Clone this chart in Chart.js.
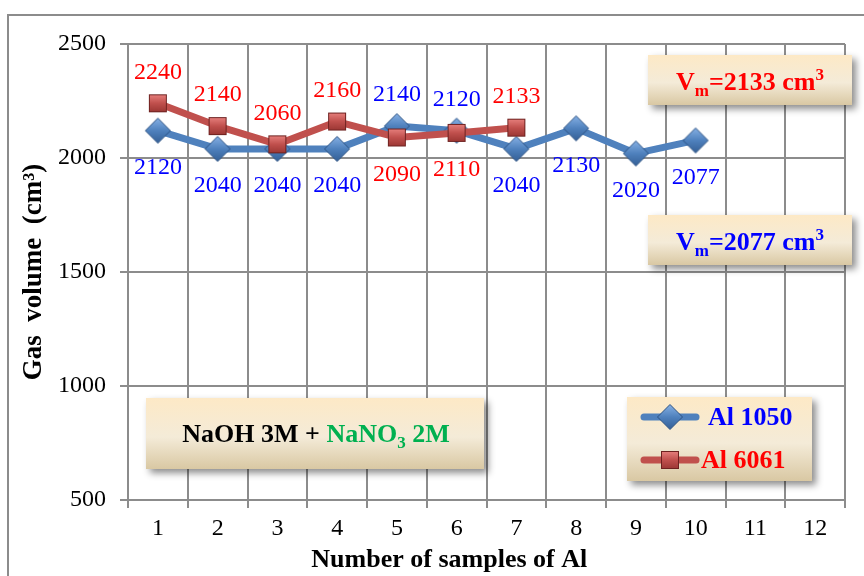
<!DOCTYPE html>
<html><head><meta charset="utf-8">
<script src="https://cdn.jsdelivr.net/npm/chart.js@4.4.0/dist/chart.umd.min.js"></script>
<style>html,body{margin:0;padding:0;background:#fff;}#wrap{width:864px;height:576px;position:relative;}</style>
</head><body><div id="wrap"><canvas id="c"></canvas></div>
<script>
// ---- data ----
const categories = ['1','2','3','4','5','6','7','8','9','10','11','12'];
const al1050 = [2120, 2040, 2040, 2040, 2140, 2120, 2040, 2130, 2020, 2077];
const al6061 = [2240, 2140, 2060, 2160, 2090, 2110, 2133];
const seriesNames = ['Al 1050', 'Al 6061'];
const yMin = 500, yMax = 2500, yStep = 500;
const mean6061 = '2133';
const mean1050 = '2077';
const xTitle = 'Number of samples of Al';
const yTitle = 'Gas  volume  (cm\u00B3)';

// label placement (above / below point)
const place1050 = ['b','b','b','b','a','a','b','b','b','b'];
const place6061 = ['a','a','a','a','b','b','a'];

const SERIF = "'Liberation Serif','Times New Roman',serif";
const BLUE = '#4f81bd', RED = '#c0504d';
const GRID = '#8c8c8c';

function makeDiamond(){
  const c = document.createElement('canvas'); c.width = 30; c.height = 30;
  const g = c.getContext('2d'); const cx = 15, cy = 15, r = 12.5;
  const gr = g.createLinearGradient(0, cy - r, 0, cy + r);
  gr.addColorStop(0, '#86b0e4'); gr.addColorStop(0.5, '#4f81bd'); gr.addColorStop(1, '#345f96');
  g.beginPath(); g.moveTo(cx, cy - r); g.lineTo(cx + r, cy); g.lineTo(cx, cy + r); g.lineTo(cx - r, cy); g.closePath();
  g.fillStyle = gr; g.fill(); g.lineWidth = 1; g.strokeStyle = '#2c5283'; g.stroke();
  return c;
}
function makeSquare(){
  const c = document.createElement('canvas'); c.width = 22; c.height = 22;
  const g = c.getContext('2d'); const s = 18, o = 2;
  const gr = g.createLinearGradient(0, o, 0, o + s);
  gr.addColorStop(0, '#e8817e'); gr.addColorStop(0.5, '#c0504d'); gr.addColorStop(1, '#9a3633');
  g.fillStyle = gr; g.fillRect(o, o, s, s);
  g.lineWidth = 1; g.strokeStyle = '#6e2220'; g.strokeRect(o + 0.5, o + 0.5, s - 1, s - 1);
  return c;
}
const diamondImg = makeDiamond();
const squareImg = makeSquare();

function drawRich(ctx, segs, cx, cy){
  let w = 0;
  segs.forEach(s => { ctx.font = s.font; s.w = ctx.measureText(s.text).width; w += s.w; });
  let x = cx - w / 2;
  ctx.textBaseline = 'alphabetic'; ctx.textAlign = 'left';
  segs.forEach(s => { ctx.font = s.font; ctx.fillStyle = s.color; ctx.fillText(s.text, x, cy + (s.dy || 0)); x += s.w; });
}
function drawBox(ctx, x, y, w, h){
  ctx.save();
  ctx.shadowColor = 'rgba(0,0,0,0.45)'; ctx.shadowBlur = 7; ctx.shadowOffsetX = 4; ctx.shadowOffsetY = 4;
  const gr = ctx.createLinearGradient(0, y, 0, y + h);
  gr.addColorStop(0, '#fde9c6'); gr.addColorStop(0.55, '#f4ebd8'); gr.addColorStop(1, '#d9c8a3');
  ctx.fillStyle = gr; ctx.fillRect(x, y, w, h);
  ctx.restore();
}

const framePlugin = {
  id: 'frame',
  beforeDraw(chart){
    const ctx = chart.ctx; ctx.save();
    ctx.fillStyle = '#fff'; ctx.fillRect(0, 0, chart.width, chart.height);
    ctx.strokeStyle = GRID; ctx.lineWidth = 2; ctx.strokeRect(8, 15, chart.width + 10, chart.height + 10);
    ctx.restore();
  }
};

const labelPlugin = {
  id: 'pointLabels',
  afterDatasetsDraw(chart){
    const ctx = chart.ctx; ctx.save();
    ctx.font = '24px ' + SERIF; ctx.textAlign = 'center'; ctx.textBaseline = 'middle';
    const specs = [{ds: 0, place: place1050, color: '#0000ff'}, {ds: 1, place: place6061, color: '#ff0000'}];
    specs.forEach(sp => {
      const meta = chart.getDatasetMeta(sp.ds);
      const vals = chart.data.datasets[sp.ds].data;
      meta.data.forEach((pt, i) => {
        const dy = sp.place[i] === 'a' ? -31 : 37;
        ctx.fillStyle = sp.color;
        ctx.fillText(String(vals[i]), pt.x, pt.y + dy);
      });
    });
    ctx.restore();
  }
};

const annoPlugin = {
  id: 'anno',
  afterDraw(chart){
    const ctx = chart.ctx; const a = chart.chartArea;
    const L = a.left, T = a.top;
    ctx.save();
    const big = 'bold 26px ' + SERIF, small = 'bold 17px ' + SERIF;
    // x axis title (centred on the whole figure)
    ctx.font = big; ctx.fillStyle = '#000'; ctx.textAlign = 'center'; ctx.textBaseline = 'alphabetic';
    ctx.fillText(xTitle, chart.width * 0.52, chart.height - 9);
    // mean boxes
    drawBox(ctx, L + 520, T + 11, 204, 50);
    drawRich(ctx, [
      {text: 'V', font: big, color: '#ff0000'},
      {text: 'm', font: small, color: '#ff0000', dy: 6},
      {text: '=' + mean6061 + ' cm', font: big, color: '#ff0000'},
      {text: '3', font: small, color: '#ff0000', dy: -10}
    ], L + 622, T + 46);
    drawBox(ctx, L + 520, T + 171, 204, 50);
    drawRich(ctx, [
      {text: 'V', font: big, color: '#0000ff'},
      {text: 'm', font: small, color: '#0000ff', dy: 6},
      {text: '=' + mean1050 + ' cm', font: big, color: '#0000ff'},
      {text: '3', font: small, color: '#0000ff', dy: -10}
    ], L + 622, T + 206);
    // solution box
    drawBox(ctx, L + 18, T + 354, 338, 71);
    const green = '#00b050';
    drawRich(ctx, [
      {text: 'NaOH 3M + ', font: big, color: '#000'},
      {text: 'NaNO', font: big, color: green},
      {text: '3', font: small, color: green, dy: 6},
      {text: ' 2M', font: big, color: green}
    ], L + 188, T + 398);
    // legend box
    drawBox(ctx, L + 499, T + 353, 185, 84);
    const items = [
      {color: BLUE, img: diamondImg, name: seriesNames[0], tcol: '#0000ff', y: T + 373, tx: L + 580},
      {color: RED, img: squareImg, name: seriesNames[1], tcol: '#ff0000', y: T + 416, tx: L + 573}
    ];
    items.forEach(it => {
      ctx.strokeStyle = it.color; ctx.lineWidth = 7; ctx.lineCap = 'round';
      ctx.beginPath(); ctx.moveTo(L + 516, it.y); ctx.lineTo(L + 568, it.y); ctx.stroke();
      ctx.drawImage(it.img, L + 542 - it.img.width / 2, it.y - it.img.height / 2);
      ctx.font = big; ctx.fillStyle = it.tcol; ctx.textAlign = 'left'; ctx.textBaseline = 'middle';
      ctx.fillText(it.name, it.tx, it.y + 1);
    });
    ctx.restore();
  }
};

new Chart(document.getElementById('c'), {
  type: 'line',
  data: {
    labels: categories,
    datasets: [
      {label: seriesNames[0], data: al1050, borderColor: BLUE, backgroundColor: BLUE, borderWidth: 7,
       pointStyle: diamondImg, pointRadius: 12, order: 2, tension: 0, borderJoinStyle: 'round', borderCapStyle: 'round'},
      {label: seriesNames[1], data: al6061, borderColor: RED, backgroundColor: RED, borderWidth: 7,
       pointStyle: squareImg, pointRadius: 12, order: 1, tension: 0, borderJoinStyle: 'round', borderCapStyle: 'round'}
    ]
  },
  options: {
    responsive: true, maintainAspectRatio: false, animation: false,
    layout: {padding: {left: 0, top: 44, right: 2, bottom: 0}},
    plugins: {legend: {display: false}, tooltip: {enabled: false}},
    scales: {
      x: {
        type: 'category', offset: true,
        grid: {offset: true, color: GRID, lineWidth: 2, tickLength: 8, drawTicks: true},
        border: {color: GRID, width: 2},
        ticks: {color: '#000', font: {family: SERIF, size: 24}, padding: 6, maxRotation: 0, autoSkip: false},
        title: {display: false},
        afterFit(s){ s.height = 76; }
      },
      y: {
        min: yMin, max: yMax,
        grid: {color: GRID, lineWidth: 2, tickLength: 8},
        border: {color: GRID, width: 2},
        ticks: {stepSize: yStep, color: '#000', font: {family: SERIF, size: 24}, padding: 14,
                callback: v => String(v)},
        title: {display: true, text: yTitle, color: '#000',
                font: {family: SERIF, size: 27, weight: 'bold'}, padding: {top: 18, bottom: 0}},
        afterFit(s){ s.width = 128; }
      }
    }
  },
  plugins: [framePlugin, labelPlugin, annoPlugin]
});
</script></body></html>
